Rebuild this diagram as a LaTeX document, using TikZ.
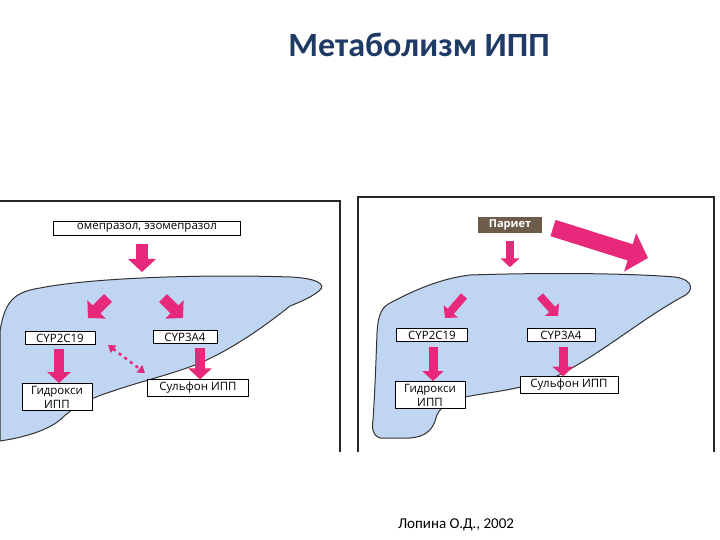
\documentclass[tikz,border=0pt]{standalone}
\usepackage{fontspec}
\setmainfont{Carlito}
\newfontfamily\boxfont{Open Sans}
\usetikzlibrary{arrows.meta}
\definecolor{pinkA}{HTML}{E8287A}
\definecolor{liver}{HTML}{BFD5F2}
\definecolor{titleblue}{HTML}{1F3A64}
\definecolor{pbrown}{HTML}{6E5C4A}
\tikzset{
  lbl/.style={draw=black, fill=white, line width=0.7pt, font=\boxfont\fontsize{11.5}{14}\selectfont, inner ysep=2.5pt, inner xsep=1.5pt, align=center},
  bigarr/.style={pinkA, line width=#1, -{Triangle[width=2.3*#1, length=1.1*#1]}},
  bigarr/.default=10pt,
  liverline/.style={draw=black!80, line width=1pt, fill=liver},
  frame/.style={draw=black!85, line width=1.6pt}
}
\begin{document}
\begin{tikzpicture}[x=1pt,y=-1pt]
\useasboundingbox (0,0) rectangle (720,540);
\fill[white] (0,0) rectangle (720,540);
\node[font=\bfseries\fontsize{34}{38}\selectfont, text=titleblue] (title) at (419,45) {Метаболизм ИПП};
\node[font=\fontsize{15}{17}\selectfont] (foot) at (456,525) {Лопина О.Д., 2002};

% left frame
\draw[frame] (0,201) -- (340,201) -- (340,452);
% left liver
\draw[liverline] (0,331) .. controls (5,300) and (15,292) .. (40,288)
  .. controls (90,278) and (200,274) .. (290,277)
  .. controls (315,278) and (328,284) .. (319,291)
  .. controls (310,298) and (300,302) .. (290,306)
  .. controls (260,330) and (230,350) .. (200,363)
  .. controls (170,375) and (145,380) .. (110,392)
  .. controls (85,400) and (70,410) .. (60,420)
  .. controls (45,432) and (20,438) .. (0,441) -- cycle;
\node[lbl, minimum width=187pt] (om) at (147,228) {омепразол, эзомепразол};
\node[lbl, minimum width=70pt] (c19l) at (60,338) {CYP2C19};
\node[lbl, minimum width=64pt] (c3al) at (185,337) {CYP3A4};
\node[lbl, minimum width=70pt] (hyl) at (57,397) {Гидрокси\\ИПП};
\node[lbl, minimum width=101pt] (sul) at (198,388) {Сульфон ИПП};
\coordinate (la1) at (142,244);
\coordinate (la2) at (142,272);
\draw[bigarr=12pt] (la1) -- (la2);
\coordinate (lb1) at (108,298);
\coordinate (lb2) at (88,318);
\draw[bigarr=11pt] (lb1) -- (lb2);
\coordinate (lc1) at (163,298);
\coordinate (lc2) at (183,318);
\draw[bigarr=11pt] (lc1) -- (lc2);
\draw[bigarr=10pt] (c19l.south -| 59,0) ++(0,4) -- (hyl.north -| 59,0);
\draw[bigarr=10pt] (c3al.south -| 200,0) ++(0,4) -- (sul.north -| 200,0);
\coordinate (dd1) at (108,345);
\coordinate (dd2) at (145,373);
\draw[pinkA, line width=2.5pt, dash pattern=on 3pt off 4pt, {Triangle[width=9pt,length=7pt]}-{Triangle[width=9pt,length=7pt]}] (dd1) -- (dd2);

% right frame
\draw[frame] (358,452) -- (358,197) -- (714,197) -- (714,452);
% right liver
\draw[liverline] (377,333) .. controls (378,318) and (380,308) .. (390,303)
  .. controls (420,287) and (445,278) .. (470,275)
  .. controls (560,272) and (640,274) .. (675,277)
  .. controls (695,280) and (694,292) .. (682,297)
  .. controls (640,320) and (600,355) .. (555,377)
  .. controls (520,390) and (490,392) .. (465,397)
  .. controls (445,402) and (438,410) .. (436,418)
  .. controls (433,430) and (425,437) .. (410,438)
  -- (380,438) .. controls (372,435) and (372,428) .. (373,420)
  .. controls (375,390) and (376,360) .. (377,333) -- cycle;
\node[fill=pbrown, text=white, font=\boxfont\bfseries\fontsize{11}{12}\selectfont, minimum width=64pt, minimum height=16pt, inner sep=1pt] (par) at (510,225) {Париет};
\node[lbl, minimum width=71pt] (c19r) at (432,335) {CYP2C19};
\node[lbl, minimum width=68pt] (c3ar) at (561,335) {CYP3A4};
\node[lbl, minimum width=70pt] (hyr) at (430,395) {Гидрокси\\ИПП};
\node[lbl, minimum width=98pt] (sur) at (569,385) {Сульфон ИПП};
\draw[bigarr=8pt] (par.south -| 510,0) ++(0,8) -- ++(0,26);
\coordinate (rb1) at (553,228);
\coordinate (rb2) at (648,258);
\draw[bigarr=17pt] (rb1) -- (rb2);
\coordinate (rc1) at (464,296);
\coordinate (rc2) at (445,318);
\draw[bigarr=8pt] (rc1) -- (rc2);
\coordinate (rd1) at (540,296);
\coordinate (rd2) at (558,316);
\draw[bigarr=8pt] (rd1) -- (rd2);
\draw[bigarr=9pt] (c19r.south -| 433,0) ++(0,5) -- (hyr.north -| 433,0);
\draw[bigarr=9pt] (c3ar.south -| 563,0) ++(0,5) -- (sur.north -| 563,0);
\end{tikzpicture}
\end{document}
